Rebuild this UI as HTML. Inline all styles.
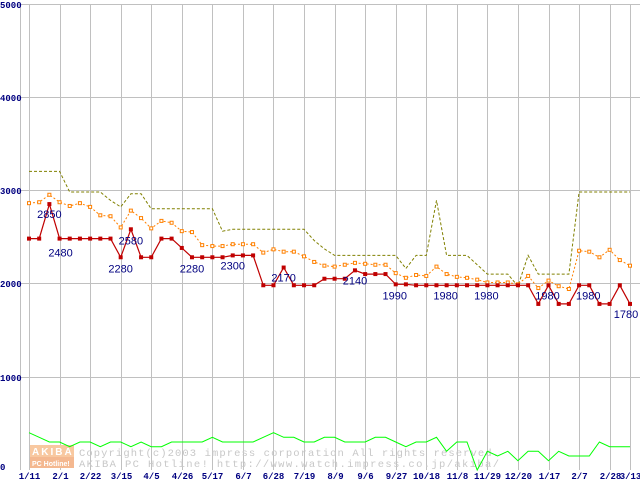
<!DOCTYPE html>
<html><head><meta charset="utf-8"><style>
html,body{margin:0;padding:0;background:#fff;}
svg{display:block;}
</style></head><body>
<svg id="chart" width="640" height="480" xmlns="http://www.w3.org/2000/svg" font-family="Liberation Sans, sans-serif">
<g id="grid"></g>
<g id="axes"></g>
<g id="watermark">
<rect x="30" y="445" width="44" height="12" fill="#f8c8a0"/>
<rect x="30" y="457" width="44" height="11" fill="#f4b890"/>
<text x="32" y="455" font-size="10" fill="#fff" font-weight="bold" letter-spacing="2">AKIBA</text>
<text x="32" y="466" font-size="7" fill="#fff" font-weight="bold">PC Hotline!</text>
<text x="79" y="456" font-size="10.5" fill="#c8c8c8" font-family="Liberation Mono, monospace" textLength="420">Copyright(c)2003 impress corporation All rights reserved.</text>
<text x="79" y="467" font-size="10.5" fill="#c8c8c8" font-family="Liberation Mono, monospace" textLength="420">AKIBA PC Hotline!  http://www.watch.impress.co.jp/akiba/</text>
</g>
<g id="series"></g>
<g id="labels"></g>
</svg>
<script>
const xLabels = ["1/11","2/1","2/22","3/15","4/5","4/26","5/17","6/7","6/28","7/19","8/9","9/6","9/27","10/18","11/8","11/29","12/20","1/17","2/7","2/28","3/13"];
const xLabelIdx = [0,3,6,9,12,15,18,21,24,27,30,33,36,39,42,45,48,51,54,57,59];
const yTicks = [0,1000,2000,3000,4000,5000];
const minPrice = [2480,2480,2850,2480,2480,2480,2480,2480,2480,2280,2580,2280,2280,2480,2480,2380,2280,2280,2280,2280,2300,2300,2300,1980,1980,2170,1980,1980,1980,2050,2050,2050,2140,2100,2100,2100,1990,1990,1980,1980,1980,1980,1980,1980,1980,1980,1980,1980,1980,1980,1780,1980,1780,1780,1980,1980,1780,1780,1980,1780];
const avgPrice = [2860,2870,2950,2870,2830,2860,2820,2730,2720,2600,2780,2700,2590,2670,2650,2560,2550,2410,2400,2400,2420,2420,2420,2330,2365,2340,2340,2290,2230,2190,2180,2200,2220,2210,2200,2200,2110,2060,2090,2080,2180,2100,2070,2060,2040,2010,2010,2010,1990,2080,1950,2030,1970,1940,2350,2340,2280,2360,2250,2190];
const maxPrice = [3200,3200,3200,3200,2980,2980,2980,2980,2890,2820,2960,2960,2800,2800,2800,2800,2800,2800,2800,2560,2580,2580,2580,2580,2580,2580,2580,2580,2460,2370,2300,2300,2300,2300,2300,2300,2300,2160,2300,2300,2890,2300,2300,2300,2200,2100,2100,2100,1970,2300,2100,2100,2100,2100,2980,2980,2980,2980,2980,2980];
const shopCount = [400,350,300,300,250,300,300,250,300,300,250,300,250,250,300,300,300,300,350,300,300,300,300,350,400,350,350,300,300,350,350,300,300,300,350,350,300,250,300,300,350,200,300,300,0,200,150,200,100,200,200,100,200,150,150,150,300,250,250,250];
const labelIdx = [2,3,10,9,16,20,25,32,36,41,45,51,55,59];
const labelText = ["2850","2480","2580","2280","2280","2300","2170","2140","1990","1980","1980","1980","1980","1780"];
const labelDx = [0,1,0,0,0,0,0,0,-1,-1,-1,-1,-1,-4];
const labelDy = [14,18,15,15,15,14,14,14,15,14,14,14,14,14];

const NS="http://www.w3.org/2000/svg";
function X(i){return 29+i*(601/59);}
function Y(v){return 470-v*0.0933;}
function mk(tag,attrs,parent){const e=document.createElementNS(NS,tag);for(const k in attrs)e.setAttribute(k,attrs[k]);parent.appendChild(e);return e;}
const grid=document.getElementById('grid'),axes=document.getElementById('axes'),series=document.getElementById('series'),labels=document.getElementById('labels');

let l=mk('line',{x1:20.5,y1:4,x2:20.5,y2:470,stroke:'#c0c0c0'},grid);


yTicks.forEach(v=>{
  if(v>0){const g=mk('line',{x1:20,y1:Math.round(Y(v))+0.5,x2:640,y2:Math.round(Y(v))+0.5,stroke:'#c0c0c0'},grid);
  
  }
  const t=mk('text',{x:0,y:Math.round(Y(v))+(v==0?0:4),'font-size':9,'font-weight':'bold',fill:'#000080','font-family':'Liberation Mono, monospace'},axes);
  t.textContent=String(v);
  
  
});
xLabelIdx.forEach((idx,k)=>{
  const x=Math.round(X(idx))+0.5;
  const g=mk('line',{x1:x,y1:4,x2:x,y2:470,stroke:'#c0c0c0'},grid);
  
  
  const t=mk('text',{x:x,y:479,'font-size':9,'font-weight':'bold',fill:'#000080','text-anchor':'middle','font-family':'Liberation Mono, monospace'},axes);
  t.textContent=xLabels[k];
  
  
});
function pts(arr){return arr.map((v,i)=>X(i).toFixed(1)+','+Y(v).toFixed(1)).join(' ');}
let p=mk('polyline',{points:pts(shopCount),fill:'none',stroke:'#00ff00','stroke-width':1},series);


p=mk('polyline',{points:pts(maxPrice),fill:'none',stroke:'#808000','stroke-width':1,'stroke-dasharray':'3,2'},series);


p=mk('polyline',{points:pts(avgPrice),fill:'none',stroke:'#ff8000','stroke-width':1,'stroke-dasharray':'2,2'},series);


avgPrice.forEach((v,i)=>{
  const r=mk('rect',{x:X(i)-1.5,y:Y(v)-1.5,width:3,height:3,fill:'#fff',stroke:'#ff8000','stroke-width':1},series);
  
  
});
p=mk('polyline',{points:pts(minPrice),fill:'none',stroke:'#c00000','stroke-width':1.2},series);


minPrice.forEach((v,i)=>{
  const r=mk('rect',{x:X(i)-2,y:Y(v)-2,width:4,height:4,fill:'#c00000'},series);
  
  
});
labelIdx.forEach((idx,k)=>{
  const t=mk('text',{x:X(idx)+labelDx[k],y:Y(minPrice[idx])+labelDy[k],'font-size':11,fill:'#000080','text-anchor':'middle'},labels);
  t.textContent=labelText[k];
  
  
});
</script>
</body></html>
